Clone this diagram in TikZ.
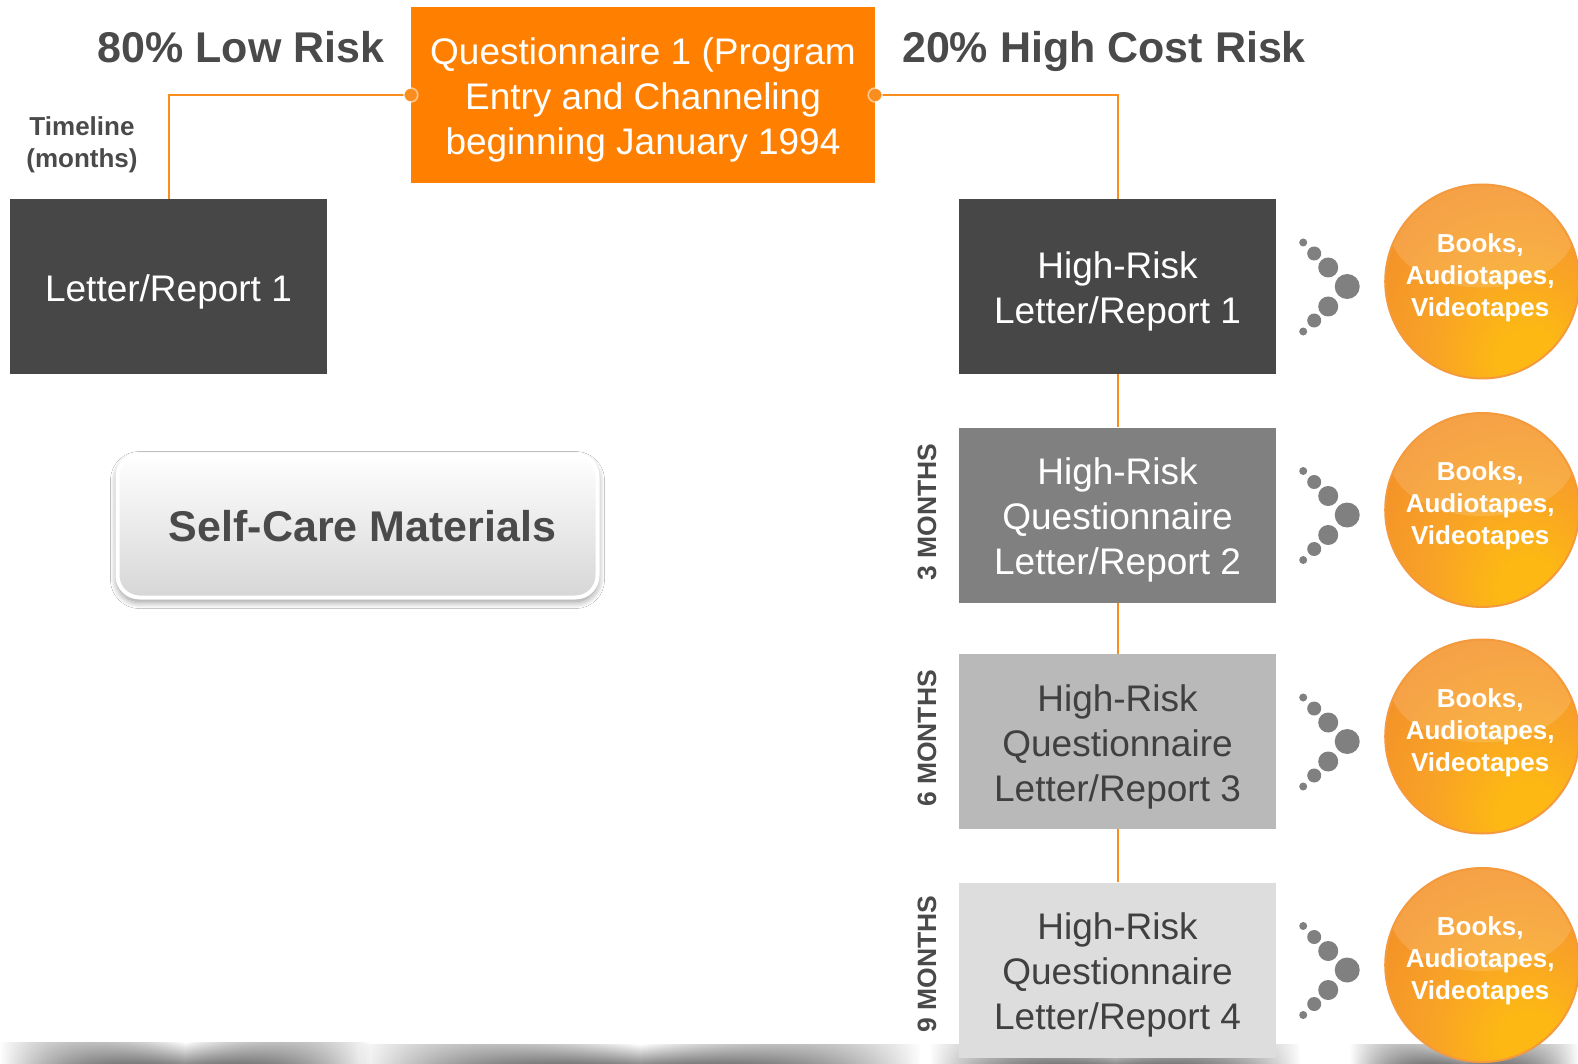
\documentclass[tikz,border=0pt]{standalone}
\usepackage{fontspec}
\setmainfont{Liberation Sans}
\usetikzlibrary{shadows.blur,fadings,calc}

\definecolor{qorange}{HTML}{FF8000}
\definecolor{linkorange}{HTML}{F98E1F}
\definecolor{headgray}{HTML}{4A4A4A}
\definecolor{boxA}{HTML}{474747}
\definecolor{boxB}{HTML}{808080}
\definecolor{boxC}{HTML}{B9B9B9}
\definecolor{boxD}{HTML}{DDDDDD}
\definecolor{darktext}{HTML}{404040}
\definecolor{dotgray}{HTML}{808080}
\definecolor{ballA}{HTML}{FDB814}
\definecolor{ballB}{HTML}{F8A127}
\definecolor{ballC}{HTML}{F39028}
\definecolor{ballD}{HTML}{EE8220}
\definecolor{ballrim}{HTML}{F49A3C}

\pgfdeclareradialshading{orangeball}{\pgfpoint{13bp}{-22bp}}{%
  color(0bp)=(ballA); color(8bp)=(ballA); color(24bp)=(ballB);
  color(42bp)=(ballC); color(50bp)=(ballD); color(100bp)=(ballD)}

\tikzfading[name=sidefade, left color=transparent!100,
  right color=transparent!100, middle color=transparent!0]

\tikzset{
  box/.style={rectangle, minimum width=317pt, minimum height=175pt, inner sep=0pt},
  boxtext/.style={align=center, inner sep=0pt, yshift=-5pt,
    font=\fontsize{37}{45}\selectfont},
  link/.style={draw=linkorange, line width=2pt},
  heading/.style={anchor=base, font=\fontsize{43}{50}\selectfont\bfseries, text=headgray},
  monthlabel/.style={rotate=90, inner sep=0pt,
    font=\fontsize{26.5}{30}\selectfont\bfseries, text=headgray},
  ball/.style={circle, minimum size=194pt, inner sep=0pt, shading=orangeball,
    draw=ballrim, line width=2pt,
    path picture={\fill[white, opacity=0.14]
      ($(path picture bounding box.center)+(0,-50)$) ellipse (92pt and 56pt);}},
  balltext/.style={align=center, inner sep=0pt, yshift=4pt, xshift=-2pt, text=white,
    font=\fontsize{26}{32}\selectfont\bfseries},
  dot/.style={fill=dotgray},
  band/.style={top color=white, bottom color=black!45, path fading=sidefade},
}

\begin{document}
\begin{tikzpicture}[x=1pt,y=-1pt]
\useasboundingbox (0,0) rectangle (1578,1064);
\fill[white] (0,0) rectangle (1578,1064);

% soft floor reflection along the lower edge
\fill[band] (0,1042) rectangle (370,1064);
\fill[band] (360,1044) rectangle (920,1064);
\fill[band] (930,1044) rectangle (1300,1064);
\fill[band] (1350,1044) rectangle (1578,1064);

% headings
\node[heading] (low) at (241,63) {80\% Low Risk};
\node[heading] (high) at (1104,63) {20\% High Cost Risk};
\node[align=center, text=headgray, font=\fontsize{26}{32}\selectfont\bfseries]
  (timeline) at (82,145) {Timeline\\(months)};

% entry questionnaire
\node[box, fill=qorange, minimum width=464pt, minimum height=176pt,
  label={[boxtext, text=white, name=q1text]center:Questionnaire 1 (Program\\Entry and Channeling\\beginning January 1994}]
  (q1) at (643,95) {};

% low-risk branch
\node[box, fill=boxA, label={[boxtext, text=white, name=lr1text]center:Letter/Report 1}]
  (lr1) at (168.5,286.5) {};

% high-risk branch
\node[box, fill=boxA, label={[boxtext, text=white, name=hr1text]center:High-Risk\\Letter/Report 1}]
  (hr1) at (1117.5,286.5) {};
\node[box, fill=boxB, label={[boxtext, text=white, name=hr2text]center:High-Risk\\Questionnaire\\Letter/Report 2}]
  (hr2) at (1117.5,515) {};
\node[box, fill=boxC, label={[boxtext, text=darktext, name=hr3text]center:High-Risk\\Questionnaire\\Letter/Report 3}]
  (hr3) at (1117.5,741.5) {};
\node[box, fill=boxD, label={[boxtext, text=darktext, name=hr4text]center:High-Risk\\Questionnaire\\Letter/Report 4}]
  (hr4) at (1117.5,970) {};

% connectors
\draw[link] (q1.west) -| (lr1.north);
\draw[link] (q1.east) -| (hr1.north);
\draw[link] (hr1.south) -- (hr2.north);
\draw[link] (hr2.south) -- (hr3.north);
\draw[link] (hr3.south) -- (hr4.north);
\foreach \p in {q1.west, q1.east}{
  \fill[linkorange] (\p) circle (6.5);
  \draw[white, opacity=0.55, line width=1.6pt] (\p) circle (7);
}

% timeline labels
\node[monthlabel] (m3) at (927,512) {3 MONTHS};
\node[monthlabel] (m6) at (927,738.5) {6 MONTHS};
\node[monthlabel] (m9) at (927,964) {9 MONTHS};

% self-care materials
\node[rectangle, rounded corners=22pt, minimum width=480pt, minimum height=143pt,
  top color=white, middle color=white, bottom color=black!16,
  draw=white, line width=4pt,
  blur shadow={shadow xshift=0pt, shadow yshift=-4pt, shadow blur radius=7pt,
    shadow blur steps=20, shadow opacity=45},
  text=headgray, font=\fontsize{43}{50}\selectfont\bfseries]
  (sc) at (357.5,526) {\hspace*{10pt}\raisebox{-3pt}{Self-Care Materials}};

% chevrons of dots and resource balls
\foreach \r/\n in {hr1/b1, hr2/b2, hr3/b3, hr4/b4}{
  \fill[dot] ($(\r.east)+(27,-44)$) circle (4);
  \fill[dot] ($(\r.east)+(38,-33)$) circle (7);
  \fill[dot] ($(\r.east)+(52,-19)$) circle (10);
  \fill[dot] ($(\r.east)+(71,0)$) circle (12.5);
  \fill[dot] ($(\r.east)+(52,20)$) circle (10);
  \fill[dot] ($(\r.east)+(38,34)$) circle (7);
  \fill[dot] ($(\r.east)+(27,45)$) circle (4);
  \node[ball, label={[balltext, name=\n text]center:Books,\\Audiotapes,\\Videotapes}]
    (\n) at ($(\r.east)+(206,-5)$) {};
}
\end{tikzpicture}
\end{document}
